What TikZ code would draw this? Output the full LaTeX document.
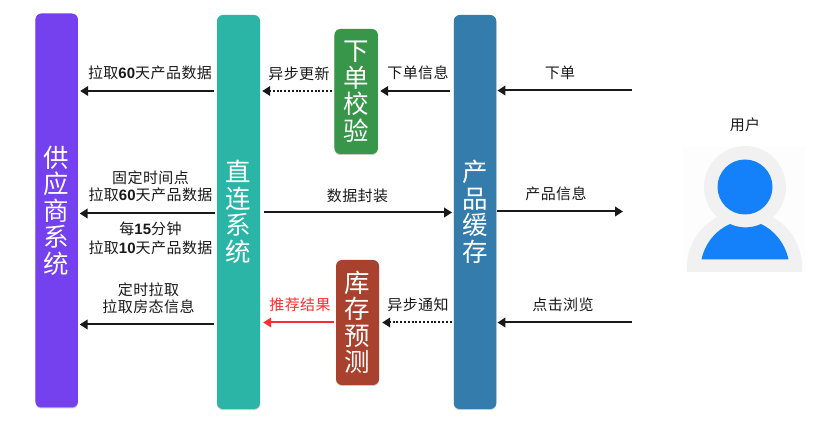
\documentclass[tikz,border=0pt]{standalone}
\usepackage{fontspec}
\setmainfont{Noto Sans CJK SC}[LetterSpace=3]
\newfontfamily\latf{Liberation Sans}[Scale=1.0]
\usetikzlibrary{arrows.meta,shadows}
\definecolor{cpurple}{HTML}{7540EE}
\definecolor{cteal}{HTML}{2BB5A6}
\definecolor{cgreen}{HTML}{38964A}
\definecolor{cblue}{HTML}{347CAB}
\definecolor{cred}{HTML}{A8422F}
\definecolor{chead}{HTML}{1481FB}
\definecolor{cring}{HTML}{F1F1F1}
\definecolor{cfaint}{HTML}{FDFDFD}
\definecolor{cwarn}{HTML}{FF2D2D}
\newcommand{\num}[1]{{\latf\bfseries #1}}
\tikzset{
  x=1pt,y=-1pt,
  sysbox/.style={rounded corners=6pt,inner sep=0pt,text=white,align=center,
    font=\fontsize{25.5}{26.5}\selectfont,
    drop shadow={shadow xshift=0pt,shadow yshift=-1pt,opacity=.35,fill=black!60}},
  lab/.style={inner sep=0pt,align=center,font=\fontsize{15}{17}\selectfont,text=black!90},
  flow/.style={line width=2pt,-{Triangle[length=8pt,width=9.5pt]},black!90},
  flowdot/.style={flow,dash pattern=on 2pt off 1.8pt},
  flowred/.style={flow,cwarn}
}
\begin{document}
\begin{tikzpicture}
\useasboundingbox (0,0) rectangle (820,427);
% systems
\node[sysbox,fill=cpurple,minimum width=42.5pt,minimum height=394pt] (sup) at (56.7,210.5) {供\\应\\商\\系\\统};
\node[sysbox,fill=cteal,minimum width=43pt,minimum height=394pt] (zl) at (238.5,212) {直\\连\\系\\统};
\node[sysbox,fill=cgreen,minimum width=43.5pt,minimum height=125pt] (chk) at (356.2,91.5) {下\\单\\校\\验};
\node[sysbox,fill=cblue,minimum width=42.5pt,minimum height=394pt] (prod) at (475,212) {产\\品\\缓\\存};
\node[sysbox,fill=cred,minimum width=43pt,minimum height=125pt] (fc) at (357.5,322.5) {库\\存\\预\\测};
% user icon
\fill[cfaint] (683,147) rectangle (806,272);
\fill[cring] (687,272) -- (687,262) .. controls (690,238) and (705,222) .. (722,215) -- (768,215) .. controls (785,222) and (799,238) .. (802,262) -- (802,272) -- cycle;
\fill[cring] (745,187) circle[radius=41];
\fill[chead] (745,187) circle[radius=27.5];
\fill[chead] (701.5,259.5) .. controls (705,243) and (716,230) .. (730,224) .. controls (740,228.5) and (751,228.5) .. (761,224) .. controls (774,230) and (785,243) .. (788.5,259.5) -- cycle;
\node[lab] (ulab) at (745,124.5) {用户};
\coordinate (utop) at (632,90.5);
\coordinate (umid) at (623,211.5);
\coordinate (ubot) at (632,322.5);
% connectors
\draw[flow,shorten <=3pt,shorten >=2pt] (zl.west |- 0,91) -- (sup.east |- 0,91);
\draw[flow,shorten <=2pt,shorten >=1.5pt] (zl.west |- 0,213.5) -- (sup.east |- 0,213.5);
\draw[flow,shorten <=3pt,shorten >=1.5pt] (zl.west |- 0,324.5) -- (sup.east |- 0,324.5);
\draw[flowdot,shorten <=2.5pt,shorten >=2pt] (chk.west |- 0,91) -- (zl.east |- 0,91);
\draw[flow,shorten <=4pt,shorten >=2pt] (prod.west |- 0,91) -- (chk.east |- 0,91);
\draw[flow,shorten >=1pt] (utop) -- (prod.east |- utop);
\draw[flow,shorten <=4pt,shorten >=1.5pt] (zl.east |- 0,212.5) -- (prod.west |- 0,212.5);
\draw[flow,shorten <=1pt] (prod.east |- umid) -- (umid);
\draw[flowred,shorten <=2pt,shorten >=3pt] (fc.west |- 0,322.5) -- (zl.east |- 0,322.5);
\draw[flowdot,shorten <=2pt,shorten >=3pt] (prod.west |- 0,322.5) -- (fc.east |- 0,322.5);
\draw[flow,shorten >=1pt] (ubot) -- (prod.east |- ubot);
% labels
\node[lab] (l1) at (150,72.5) {拉取\num{60}天产品数据};
\node[lab] (l2) at (150.5,186.5) {固定时间点\\拉取\num{60}天产品数据};
\node[lab] (l3) at (150.5,238.5) {每\num{15}分钟\\[2pt]拉取\num{10}天产品数据};
\node[lab] (l4) at (148.5,298.5) {定时拉取\\拉取房态信息};
\node[lab] (l5) at (299,73.5) {异步更新};
\node[lab] (l6) at (418,73) {下单信息};
\node[lab] (l7) at (357.5,196) {数据封装};
\node[lab] (l8) at (560,73) {下单};
\node[lab] (l9) at (556,194) {产品信息};
\node[lab,text=cwarn] (l10) at (300,304.5) {推荐结果};
\node[lab] (l11) at (418,304.5) {异步通知};
\node[lab] (l12) at (563,304.5) {点击浏览};
\end{tikzpicture}
\end{document}
